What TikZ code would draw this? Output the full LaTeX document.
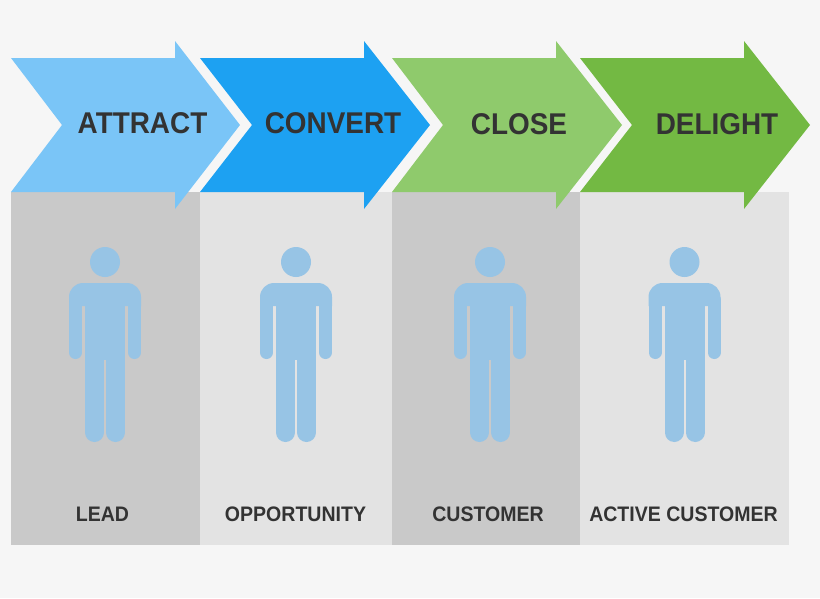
\documentclass[tikz,border=0pt]{standalone}
\usepackage{fontspec}
\setmainfont{Liberation Sans}
\newfontfamily\stagefont[FakeStretch=0.93]{Liberation Sans}
\definecolor{pagebg}{HTML}{F6F6F6}
\definecolor{paneldark}{HTML}{C9C9C9}
\definecolor{panellight}{HTML}{E3E3E3}
\definecolor{attractcol}{HTML}{7AC5F7}
\definecolor{convertcol}{HTML}{1DA1F2}
\definecolor{closecol}{HTML}{8FCA6C}
\definecolor{delightcol}{HTML}{73B943}
\definecolor{personcol}{HTML}{97C4E5}
\definecolor{labelcol}{HTML}{333333}
\tikzset{
  stagelabel/.style={text=labelcol, inner sep=0pt, font=\stagefont\fontsize{30}{30}\selectfont\bfseries},
  personlabel/.style={text=labelcol, inner sep=0pt, font=\stagefont\fontsize{21}{21}\selectfont\bfseries},
  arm/.style={draw=personcol, line width=13pt, line cap=round},
  leg/.style={draw=personcol, line width=19pt, line cap=round},
}
\begin{document}
\begin{tikzpicture}[x=1pt,y=-1pt]

        % Page
        \fill[pagebg] (0,0) rectangle (820,598);
        \useasboundingbox (0,0) rectangle (820,598);

        % Panels
        \fill[paneldark] (11,192) rectangle (200,545);
        \fill[panellight] (200,192) rectangle (392,545);
        \fill[paneldark] (392,192) rectangle (580,545);
        \fill[panellight] (580,192) rectangle (789,545);

        % Arrows
        \foreach \lft/\notch/\shaft/\tip/\col in {11/62/175/240/attractcol, 200/252/364/430/convertcol, 392/443/556/622/closecol, 580/632/744/810/delightcol} {
          \fill[\col] (\lft,58) -- (\shaft,58) -- (\shaft,41) -- (\tip,125) -- (\shaft,209) -- (\shaft,192) -- (\lft,192) -- (\notch,125) -- cycle;
        }

        % Persons
        \foreach \cx in {105,296,490,684.5} {
          \begin{scope}[shift={(\cx,0)}]
            \fill[personcol] (0,262) circle (15);
            % Shoulders and trunk
            \fill[personcol] (-36,306) [rounded corners=14pt] -- (-36,283) -- (36,283) -- (36,306);
            \fill[personcol] (-20,300) rectangle (20,360);
            % Arms
            \draw[arm] (-29.5,300) -- (-29.5,352.5);
            \draw[arm] (29.5,300) -- (29.5,352.5);
            % Legs
            \draw[leg] (-10.5,350) -- (-10.5,432.5);
            \draw[leg] (10.5,350) -- (10.5,432.5);
          \end{scope}
        }

        % Stage names
        \node[stagelabel] (attract) at (142.5,123) {ATTRACT};
        \node[stagelabel] (convert) at (333,123) {CONVERT};
        \node[stagelabel] (close) at (519,124) {CLOSE};
        \node[stagelabel] (delight) at (717,124) {DELIGHT};

        % Person names
        \node[personlabel] (lead) at (102.5,514) {LEAD};
        \node[personlabel] (opportunity) at (295.5,514) {OPPORTUNITY};
        \node[personlabel] (customer) at (488,514) {CUSTOMER};
        \node[personlabel] (activecustomer) at (683.5,514) {ACTIVE CUSTOMER};

\end{tikzpicture}
\end{document}
